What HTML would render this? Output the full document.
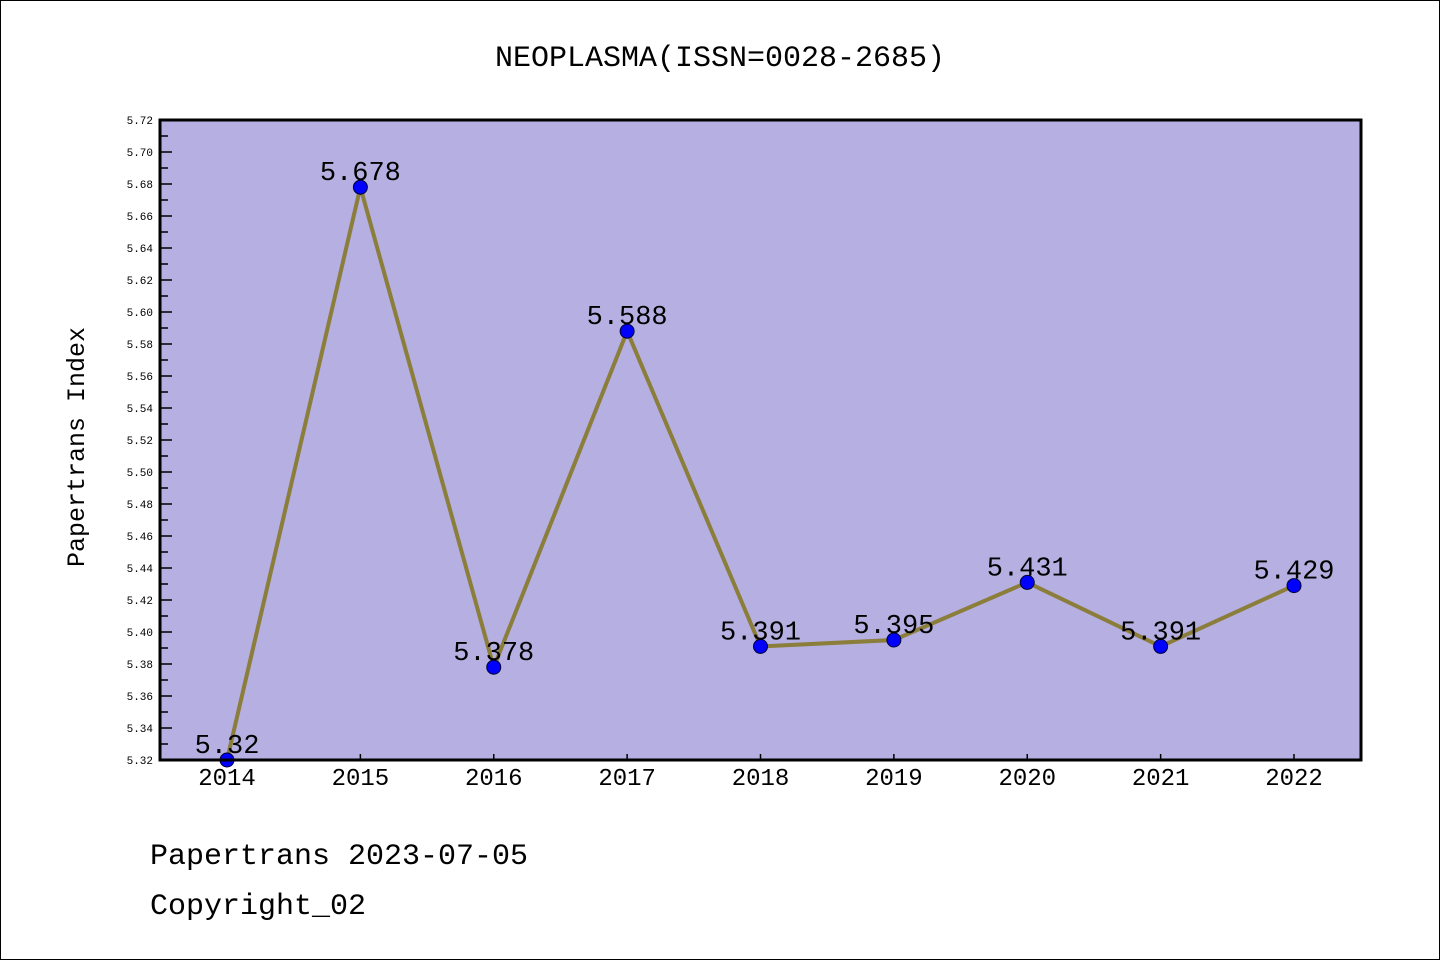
<!DOCTYPE html>
<html><head><meta charset="utf-8"><style>
body{margin:0;background:#fff}
svg{display:block}
text{font-family:"Liberation Mono","DejaVu Sans Mono",monospace}
</style></head><body>
<svg id="chart" width="1440" height="960" xmlns="http://www.w3.org/2000/svg">
<rect x="0.5" y="0.5" width="1439" height="959" fill="#fff" stroke="#000"/>
<text x="720" y="66" text-anchor="middle" font-size="30">NEOPLASMA(ISSN=0028-2685)</text>
<rect x="160" y="120" width="1201" height="640" fill="#b5afe2"/>
<g id="yaxis"></g>
<g id="xaxis"></g>
<g id="series"></g>
<rect x="160" y="120" width="1201" height="640" fill="none" stroke="#000" stroke-width="3"/>
<text transform="translate(84,447) rotate(-90)" text-anchor="middle" font-size="25">Papertrans Index</text>
<text x="150" y="864" font-size="30">Papertrans 2023-07-05</text>
<text x="150" y="914" font-size="30">Copyright_02</text>
</svg>
<script>
const years = ["2014","2015","2016","2017","2018","2019","2020","2021","2022"];
const values = [5.32,5.678,5.378,5.588,5.391,5.395,5.431,5.391,5.429];
const valueLabels = ["5.32","5.678","5.378","5.588","5.391","5.395","5.431","5.391","5.429"];
const yTicks = ["5.32","5.34","5.36","5.38","5.40","5.42","5.44","5.46","5.48","5.50","5.52","5.54","5.56","5.58","5.60","5.62","5.64","5.66","5.68","5.70","5.72"];
const NS="http://www.w3.org/2000/svg";
const yMin=5.32,yMax=5.72,plotTop=120,plotBot=760,plotLeft=160;
const sy=v=>plotBot-(v-yMin)/(yMax-yMin)*(plotBot-plotTop);
const sx=i=>227+i*(1294-227)/(years.length-1);
function mk(tag,attrs,parent){const e=document.createElementNS(NS,tag);for(const k in attrs)e.setAttribute(k,attrs[k]);parent.appendChild(e);return e;}
const ya=document.getElementById('yaxis');
for(let i=0;i<yTicks.length;i++){
  const v=parseFloat(yTicks[i]),yy=sy(v);
  const t=mk('line',{x1:plotLeft,x2:plotLeft+12,y1:yy,y2:yy,stroke:'#000','stroke-width':1.5},ya);
  
  
  const lb=mk('text',{x:153,y:yy+4,'text-anchor':'end','font-size':11,'font-family':'Liberation Sans, sans-serif'},ya);
  lb.textContent=yTicks[i];
  
  
  if(i<yTicks.length-1){
    const ym=sy(v+0.01);
    const m=mk('line',{x1:plotLeft,x2:plotLeft+8,y1:ym,y2:ym,stroke:'#000','stroke-width':1.5},ya);
    
    
  }
}
const xa=document.getElementById('xaxis');
years.forEach((yr,i)=>{
  const t=mk('line',{x1:sx(i),x2:sx(i),y1:plotBot,y2:plotBot-6,stroke:'#000','stroke-width':1.5},xa);
  
  
  const lb=mk('text',{x:sx(i),y:785,'text-anchor':'middle','font-size':24,'font-family':'Liberation Sans, sans-serif'},xa);
  lb.textContent=yr;
  
  
});
const s=document.getElementById('series');
const pl=mk('polyline',{points:values.map((v,i)=>sx(i)+','+sy(v)).join(' '),fill:'none',stroke:'#8b7d3a','stroke-width':4,'stroke-linejoin':'round'},s);


values.forEach((v,i)=>{
  const c=mk('circle',{cx:sx(i),cy:sy(v),r:7,fill:'#0000ff',stroke:'#000033','stroke-width':1},s);
  
  
  const lb=mk('text',{x:sx(i),y:sy(v)-7,'text-anchor':'middle','font-size':27},s);
  lb.textContent=valueLabels[i];
  
  
});
</script>
</body></html>
